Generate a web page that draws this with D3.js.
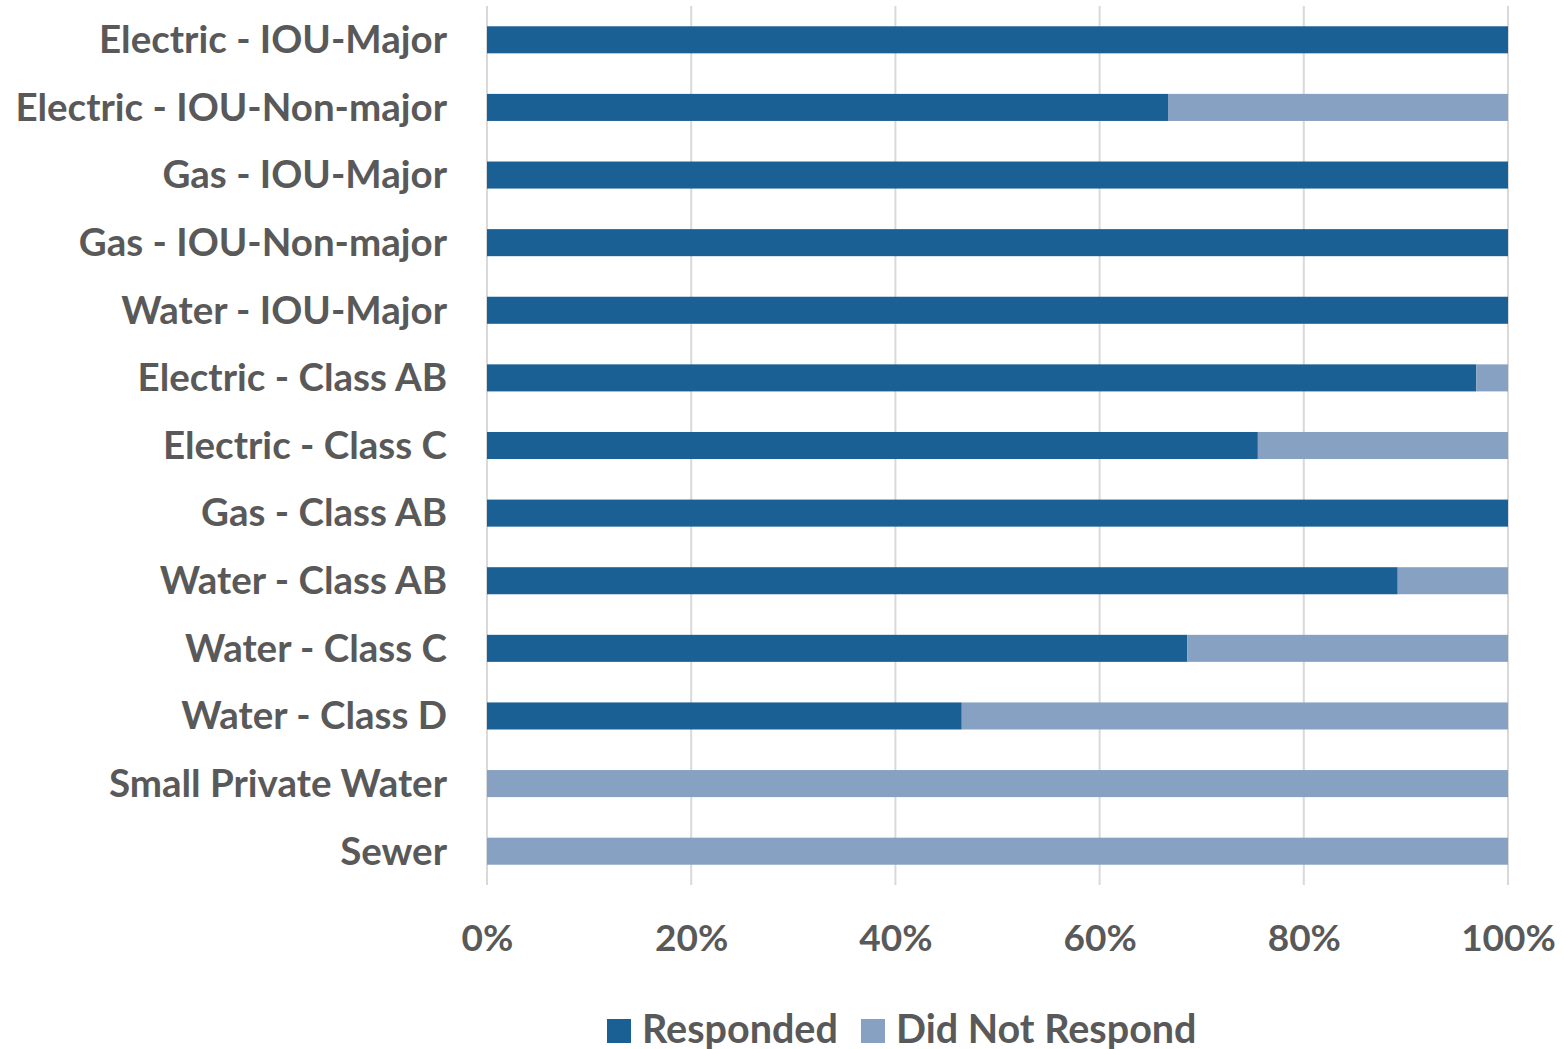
<!DOCTYPE html>
<html>
<head>
<meta charset="utf-8">
<script src="https://cdn.jsdelivr.net/npm/d3@7"></script>
<style>
  body { margin: 0; background: #ffffff; }
  svg { display: block; }
</style>
</head>
<body>
<div id="chart"></div>
<script>
// data
var categories = [
  "Electric - IOU-Major",
  "Electric - IOU-Non-major",
  "Gas - IOU-Major",
  "Gas - IOU-Non-major",
  "Water - IOU-Major",
  "Electric - Class AB",
  "Electric - Class C",
  "Gas - Class AB",
  "Water - Class AB",
  "Water - Class C",
  "Water - Class D",
  "Small Private Water",
  "Sewer"
];
var responded    = [1.0, 0.667, 1.0, 1.0, 1.0, 0.969, 0.755, 1.0, 0.892, 0.686, 0.465, 0, 0];
var didNotRespond = [0, 0.333, 0, 0, 0, 0.031, 0.245, 0, 0.108, 0.314, 0.535, 1.0, 1.0];
var seriesNames = ["Responded", "Did Not Respond"];
var seriesColors = ["#1a6094", "#87a1c2"];
var tickValues = [0, 0.2, 0.4, 0.6, 0.8, 1.0];

var W = 1564, H = 1049;
var plotLeft = 487, plotRight = 1508, plotTop = 6, plotBottom = 885;
var font = "Lato, 'Open Sans', sans-serif";
var textColor = "#595959";

var svg = d3.select("#chart").append("svg")
  .attr("width", W)
  .attr("height", H);

var x = d3.scaleLinear().domain([0, 1]).range([plotLeft, plotRight]);
var y = d3.scaleBand().domain(categories).range([plotTop, plotBottom]).paddingInner(0.6).paddingOuter(0.3);

// gridlines
svg.append("g").selectAll("line")
  .data(tickValues)
  .join("line")
  .attr("x1", function(d) { return x(d); })
  .attr("x2", function(d) { return x(d); })
  .attr("y1", plotTop)
  .attr("y2", plotBottom)
  .style("stroke", "#d9d9d9")
  .style("stroke-width", 2);

// stacked bars
var rows = categories.map(function(c, i) {
  return { cat: c, Responded: responded[i], "Did Not Respond": didNotRespond[i] };
});
var stack = d3.stack().keys(seriesNames)(rows);

svg.append("g").selectAll("g")
  .data(stack)
  .join("g")
  .attr("fill", function(d, i) { return seriesColors[i]; })
  .selectAll("rect")
  .data(function(d) { return d; })
  .join("rect")
  .attr("x", function(d) { return x(d[0]); })
  .attr("width", function(d) { return x(d[1]) - x(d[0]); })
  .attr("y", function(d) { return y(d.data.cat); })
  .attr("height", y.bandwidth());

// category labels
var yAxis = svg.append("g")
  .attr("transform", "translate(" + plotLeft + ",1)")
  .call(d3.axisLeft(y).tickSize(0).tickPadding(40));
yAxis.select(".domain").remove();
yAxis.selectAll("text")
  .attr("font-family", font)
  .attr("font-weight", 700)
  .attr("font-size", "38.5px")
  .attr("fill", textColor);

// percent axis
var xAxis = svg.append("g")
  .attr("transform", "translate(0," + plotBottom + ")")
  .call(d3.axisBottom(x).tickValues(tickValues).tickFormat(d3.format(".0%")).tickSize(0).tickPadding(40));
xAxis.select(".domain").remove();
xAxis.selectAll("text")
  .attr("font-family", font)
  .attr("font-weight", 700)
  .attr("font-size", "37px")
  .attr("fill", textColor);

// legend
var legendX = [607, 861];
var legend = svg.append("g").selectAll("g")
  .data(seriesNames)
  .join("g")
  .attr("transform", function(d, i) { return "translate(" + legendX[i] + ",1019)"; });
legend.append("rect")
  .attr("width", 24)
  .attr("height", 24)
  .attr("fill", function(d, i) { return seriesColors[i]; });
legend.append("text")
  .attr("x", 35)
  .attr("y", 24)
  .text(function(d) { return d; })
  .attr("font-family", font)
  .attr("font-weight", 700)
  .attr("font-size", "39.5px")
  .attr("fill", textColor);
</script>
</body>
</html>
